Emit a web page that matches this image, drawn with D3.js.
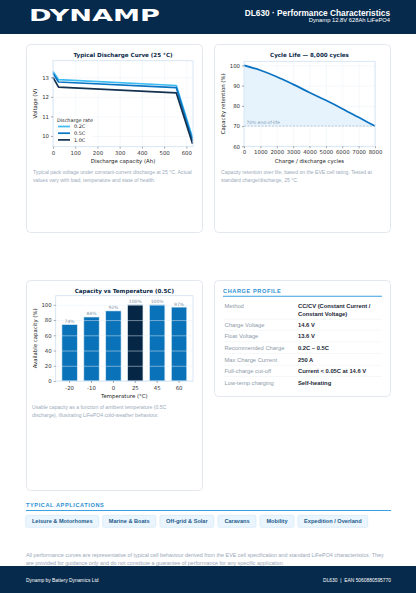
<!DOCTYPE html>
<html>
<head>
<meta charset="utf-8">
<script src="https://cdn.jsdelivr.net/npm/d3@7"></script>
<style>
  html, body { margin: 0; padding: 0; background: #fff; }
  svg { display: block; font-family: "Liberation Sans", Arial, sans-serif; }
  .mpl { font-family: "DejaVu Sans", sans-serif; }
</style>
</head>
<body>
<svg id="page" width="416" height="593"></svg>
<script>
// ---- data ----
const dischargeRates = ["0.2C", "0.5C", "1.0C"];
const dischargeAh = [0, 25, 555, 628];
const dischargeV02 = [13.3, 12.88, 12.58, 9.9];
const dischargeV05 = [13.2, 12.76, 12.47, 9.75];
const dischargeV10 = [13.0, 12.5, 12.2, 9.6];

const cycleCount = [0, 1000, 2000, 3000, 4000, 5000, 6000, 7000, 8000];
const cycleRetention = [100, 97.6, 94.4, 90.6, 86.6, 82.7, 78.6, 74.3, 70];

const tempLabels = ["-20", "-10", "0", "25", "45", "60"];
const tempCapacity = [74, 84, 92, 100, 100, 97];

const chargeLabels = ["Method", "Charge Voltage", "Float Voltage", "Recommended Charge",
  "Max Charge Current", "Full-charge cut-off", "Low-temp charging"];
const chargeValues = [["CC/CV (Constant Current /", "Constant Voltage)"], ["14.6 V"], ["13.6 V"],
  ["0.2C \u2013 0.5C"], ["250 A"], ["Current < 0.05C at 14.6 V"], ["Self-heating"]];

const applications = ["Leisure & Motorhomes", "Marine & Boats", "Off-grid & Solar",
  "Caravans", "Mobility", "Expedition / Overland"];

const navy = "#062a4c";
const svg = d3.select("#page");

// ---- header / footer ----
svg.append("rect").attr("width", 416).attr("height", 34).attr("fill", navy);
svg.append("text").attr("x", 29).attr("y", 21)
  .attr("font-family", "DejaVu Sans").attr("font-weight", 900).attr("font-size", 15)
  .attr("textLength", 131).attr("lengthAdjust", "spacingAndGlyphs")
  .attr("fill", "#fff").text("DYNAMP");
svg.append("text").attr("x", 390).attr("y", 15.5).attr("text-anchor", "end")
  .attr("font-weight", "bold").attr("font-size", 8.3).attr("fill", "#fff")
  .text("DL630 \u00b7 Performance Characteristics");
svg.append("text").attr("x", 390).attr("y", 21.5).attr("text-anchor", "end")
  .attr("font-size", 5.8).attr("fill", "#fff").text("Dynamp 12.8V 628Ah LiFePO4");

svg.append("rect").attr("y", 566).attr("width", 416).attr("height", 27).attr("fill", navy);
svg.append("text").attr("x", 26).attr("y", 582).attr("font-size", 4.9).attr("fill", "#fff")
  .text("Dynamp by Battery Dynamics Ltd");
svg.append("text").attr("x", 391).attr("y", 582).attr("font-size", 4.9).attr("fill", "#fff")
  .attr("text-anchor", "end").style("white-space", "pre").text("DL630  |  EAN 5060880595770");

// ---- cards ----
function card(x, y, w, h) {
  svg.append("rect").attr("x", x + 0.5).attr("y", y + 0.5).attr("width", w).attr("height", h)
    .attr("rx", 4).attr("fill", "#fff").attr("stroke", "#e3e8ee");
}
card(26, 44, 176, 188);
card(214, 44, 176, 188);
card(26, 280, 176, 210);
card(214, 280, 176, 116);

function caption(x, y, lines) {
  const t = svg.append("text").attr("font-size", 5.1).attr("fill", "#9aaabb");
  lines.forEach((l, i) => t.append("tspan").attr("x", x).attr("y", y + i * 8).text(l));
}

// grid lines behind a plot
function frame(x, y, opts) {
  const g = svg.append("g").attr("class", "mpl");
  const [x0, x1] = x.range(), [y0, y1] = y.range();
  if (opts.gridX) {
    g.append("g").attr("transform", `translate(0,${y0})`)
      .call(d3.axisBottom(x).tickValues(opts.xTicks).tickSize(-(y0 - y1)).tickFormat(""))
      .call(a => a.select(".domain").remove())
      .selectAll("line").attr("stroke", "#eef3f8").attr("stroke-width", 0.6);
  }
  g.append("g").attr("transform", `translate(${x0},0)`)
    .call(d3.axisLeft(y).tickValues(opts.yTicks).tickSize(-(x1 - x0)).tickFormat(""))
    .call(a => a.select(".domain").remove())
    .selectAll("line").attr("stroke", "#eef3f8").attr("stroke-width", 0.6);
  return g;
}
function axes(g, xr, y, opts) {
  const [x0, x1] = xr, [y0, y1] = y.range();
  g.append("rect").attr("x", x0).attr("y", y1).attr("width", x1 - x0).attr("height", y0 - y1)
    .attr("fill", "none").attr("stroke", "#cfe2f2").attr("stroke-width", 0.8);
  const ax = g.append("g").attr("transform", `translate(0,${y0})`).call(opts.xAxis);
  const ay = g.append("g").attr("transform", `translate(${x0},0)`)
    .call(d3.axisLeft(y).tickValues(opts.yTicks).tickSize(2).tickPadding(2).tickFormat(d3.format("d")));
  [ax, ay].forEach(a => {
    a.attr("font-family", null).attr("font-size", null);
    a.select(".domain").remove();
    a.selectAll("line").attr("stroke", "#555").attr("stroke-width", 0.5);
    a.selectAll("text").attr("font-size", 5.4).attr("fill", "#333");
  });
  g.append("text").attr("x", (x0 + x1) / 2).attr("y", opts.xLabelY).attr("text-anchor", "middle")
    .attr("font-size", 5.4).attr("fill", "#222").text(opts.xLabel);
  g.append("text").attr("transform", `translate(${opts.yLabelX},${(y0 + y1) / 2}) rotate(-90)`)
    .attr("text-anchor", "middle").attr("font-size", 5.4).attr("fill", "#222").text(opts.yLabel);
  g.append("text").attr("x", (x0 + x1) / 2).attr("y", opts.titleY).attr("text-anchor", "middle")
    .attr("font-size", 5.6).attr("font-weight", "bold").attr("fill", "#0b2a4a").text(opts.title);
}

// ---- chart 1: discharge curve ----
{
  const x = d3.scaleLinear().domain([0, 630]).range([53, 193]);
  const y = d3.scaleLinear().domain([9.45, 13.85]).range([146.7, 60.7]);
  const xTicks = [0, 100, 200, 300, 400, 500, 600], yTicks = [10, 11, 12, 13];
  const g = frame(x, y, { gridX: true, xTicks, yTicks });
  const colors = ["#3dbbf2", "#0a74c4", "#14314f"];
  const series = [dischargeV02, dischargeV05, dischargeV10];
  const line = d3.line().x((d, i) => x(dischargeAh[i])).y(d => y(d));
  series.forEach((s, k) => {
    g.append("path").datum(s).attr("d", line).attr("fill", "none")
      .attr("stroke", colors[k]).attr("stroke-width", 1.7).attr("stroke-linejoin", "round");
  });
  axes(g, x.range(), y, {
    xAxis: d3.axisBottom(x).tickValues(xTicks).tickSize(2).tickPadding(2),
    yTicks, xLabel: "Discharge capacity (Ah)", xLabelY: 162.5, yLabel: "Voltage (V)", yLabelX: 37,
    title: "Typical Discharge Curve (25 \u00b0C)", titleY: 57
  });
  const lg = g.append("g");
  lg.append("rect").attr("x", 55).attr("y", 116).attr("width", 38).attr("height", 27)
    .attr("fill", "#fff").attr("opacity", 0.85);
  lg.append("text").attr("x", 57).attr("y", 122).attr("font-size", 4.9).attr("fill", "#222").text("Discharge rate");
  dischargeRates.forEach((r, i) => {
    const yy = 126.5 + i * 6.7;
    lg.append("line").attr("x1", 58).attr("x2", 70).attr("y1", yy).attr("y2", yy)
      .attr("stroke", colors[i]).attr("stroke-width", 1.7);
    lg.append("text").attr("x", 74).attr("y", yy + 1.8).attr("font-size", 4.9).attr("fill", "#222").text(r);
  });
  caption(33, 173.5, ["Typical pack voltage under constant-current discharge at 25 \u00b0C. Actual",
    "values vary with load, temperature and state of health."]);
}

// ---- chart 2: cycle life ----
{
  const x = d3.scaleLinear().domain([0, 8000]).range([244, 375]);
  const y = d3.scaleLinear().domain([60, 102]).range([146.3, 61.3]);
  const xTicks = d3.range(0, 8001, 1000), yTicks = [60, 70, 80, 90, 100];
  const g = frame(x, y, { gridX: true, xTicks, yTicks });
  const area = d3.area().x((d, i) => x(cycleCount[i])).y0(y(70)).y1(d => y(d)).curve(d3.curveMonotoneX);
  g.append("path").datum(cycleRetention).attr("d", area).attr("fill", "#e3f2fc").attr("opacity", 0.9);
  g.append("line").attr("x1", x(0)).attr("x2", x(8000)).attr("y1", y(70)).attr("y2", y(70))
    .attr("stroke", "#9ab4cc").attr("stroke-width", 0.7).attr("stroke-dasharray", "2,1.5");
  g.append("text").attr("x", x(150)).attr("y", y(70) - 2).attr("font-size", 4.4)
    .attr("fill", "#8aa0b6").text("70% end-of-life");
  g.append("path").datum(cycleRetention)
    .attr("d", d3.line().x((d, i) => x(cycleCount[i])).y(d => y(d)).curve(d3.curveMonotoneX))
    .attr("fill", "none").attr("stroke", "#0a72c2").attr("stroke-width", 1.7);
  axes(g, x.range(), y, {
    xAxis: d3.axisBottom(x).tickValues(xTicks).tickSize(2).tickPadding(2).tickFormat(d3.format("d")),
    yTicks, xLabel: "Charge / discharge cycles", xLabelY: 162.5, yLabel: "Capacity retention (%)", yLabelX: 225,
    title: "Cycle Life \u2014 8,000 cycles", titleY: 57
  });
  caption(221, 173.5, ["Capacity retention over life, based on the EVE cell rating. Tested at",
    "standard charge/discharge, 25 \u00b0C."]);
}

// ---- chart 3: capacity vs temperature ----
{
  const x = d3.scaleBand().domain(tempLabels).range([55.7, 193]).paddingInner(0.3).paddingOuter(0.285);
  const y = d3.scaleLinear().domain([0, 112]).range([381, 295.7]);
  const yTicks = [0, 20, 40, 60, 80, 100];
  const g = svg.append("g").attr("class", "mpl");
  g.selectAll("rect.bar").data(tempCapacity).enter().append("rect").attr("class", "bar")
    .attr("x", (d, i) => x(tempLabels[i])).attr("width", x.bandwidth())
    .attr("y", d => y(d)).attr("height", d => y(0) - y(d))
    .attr("fill", (d, i) => tempLabels[i] === "25" ? "#052745" : "#0a72b8")
    .attr("stroke", "#d6e9f7").attr("stroke-width", 0.6);
  g.append("g").attr("transform", "translate(55.7,0)")
    .call(d3.axisLeft(y).tickValues(yTicks).tickSize(-(193 - 55.7)).tickFormat(""))
    .call(a => a.select(".domain").remove())
    .selectAll("line").attr("stroke", "#e6f0f8").attr("stroke-width", 0.6).attr("opacity", 0.8);
  g.selectAll("text.val").data(tempCapacity).enter().append("text").attr("class", "val")
    .attr("x", (d, i) => x(tempLabels[i]) + x.bandwidth() / 2).attr("y", d => y(d) - 1.6)
    .attr("text-anchor", "middle").attr("font-size", 4.5).attr("fill", "#7d8fa2").text(d => d + "%");
  axes(g, x.range(), y, {
    xAxis: d3.axisBottom(x).tickSize(2).tickPadding(3),
    yTicks, xLabel: "Temperature (\u00b0C)", xLabelY: 398, yLabel: "Available capacity (%)", yLabelX: 37,
    title: "Capacity vs Temperature (0.5C)", titleY: 292.5
  });
  caption(32, 409, ["Usable capacity as a function of ambient temperature (0.5C",
    "discharge), illustrating LiFePO4 cold-weather behaviour."]);
}

// ---- charge profile table ----
{
  const g = svg.append("g");
  g.append("text").attr("x", 223).attr("y", 293).attr("font-size", 5.6).attr("font-weight", "bold")
    .attr("letter-spacing", 0.6).attr("fill", "#2a8fd4").text("CHARGE PROFILE");
  g.append("line").attr("x1", 223).attr("x2", 382).attr("y1", 296.3).attr("y2", 296.3)
    .attr("stroke", "#3aa2e2").attr("stroke-width", 1.1);
  const rowY = [308.3, 326.7, 338.3, 350, 361.7, 373, 384.7];
  chargeLabels.forEach((lab, i) => {
    g.append("text").attr("x", 224.5).attr("y", rowY[i]).attr("font-size", 5.8)
      .attr("fill", "#8c9aa9").text(lab);
    chargeValues[i].forEach((v, j) => {
      g.append("text").attr("x", 298).attr("y", rowY[i] + j * 7.4).attr("font-size", 5.8)
        .attr("font-weight", "bold").attr("fill", "#1b2836").text(v);
    });
    if (i < chargeLabels.length - 1) {
      const sy = (chargeValues[i].length > 1 ? rowY[i] + 7.4 : rowY[i]) + 3.5;
      g.append("line").attr("x1", 223).attr("x2", 382).attr("y1", sy).attr("y2", sy)
        .attr("stroke", "#eef1f4").attr("stroke-width", 0.6);
    }
  });
}

// ---- typical applications ----
{
  const g = svg.append("g");
  g.append("text").attr("x", 26).attr("y", 507).attr("font-size", 5.6).attr("font-weight", "bold")
    .attr("letter-spacing", 0.6).attr("fill", "#2a8fd4").text("TYPICAL APPLICATIONS");
  g.append("line").attr("x1", 26).attr("x2", 391).attr("y1", 510.5).attr("y2", 510.5)
    .attr("stroke", "#3aa2e2").attr("stroke-width", 1.1);
  const pillX = [25.7, 102.7, 160, 218, 260, 298];
  const pillW = [73, 53, 53.7, 38, 34, 69.7];
  applications.forEach((a, i) => {
    g.append("rect").attr("x", pillX[i]).attr("y", 515.3).attr("width", pillW[i]).attr("height", 12)
      .attr("rx", 1.5).attr("fill", "#eaf5fd").attr("stroke", "#cfe6f7").attr("stroke-width", 0.6);
    g.append("text").attr("x", pillX[i] + pillW[i] / 2).attr("y", 523.3).attr("text-anchor", "middle")
      .attr("font-size", 5.6).attr("font-weight", "bold").attr("fill", "#1c5b8c").text(a);
  });
  const t = svg.append("text").attr("font-size", 5.4).attr("fill", "#9aa8b8");
  ["All performance curves are representative of typical cell behaviour derived from the EVE cell specification and standard LiFePO4 characteristics. They",
   "are provided for guidance only and do not constitute a guarantee of performance for any specific application."]
    .forEach((l, i) => t.append("tspan").attr("x", 26).attr("y", 556.5 + i * 8).text(l));
}
</script>
</body>
</html>
